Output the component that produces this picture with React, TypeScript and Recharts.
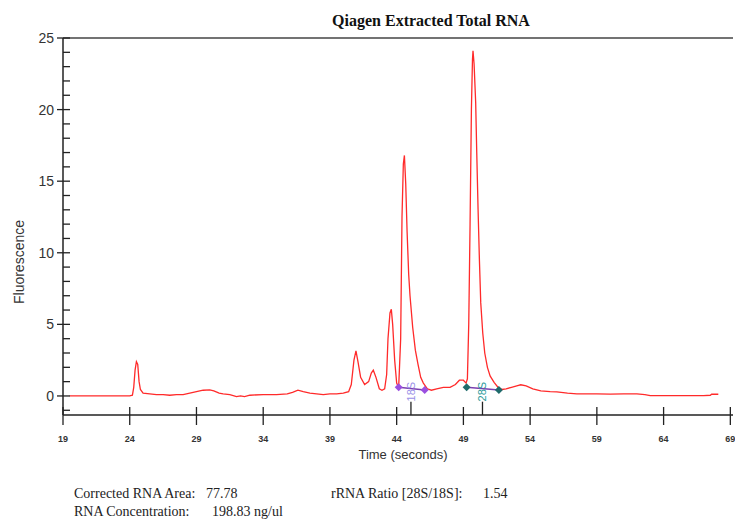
import { LineChart, Line, XAxis, YAxis, ReferenceLine, ReferenceDot } from 'recharts';

// electropherogram trace (time in seconds, fluorescence units)
const TIME = [
  19.5, 20, 22, 24.0, 24.2, 24.3, 24.4, 24.5, 24.6, 24.7, 24.8, 25.0, 25.5, 26.0, 26.5, 27.0, 27.5, 28.0,
  28.5, 29.0, 29.5, 30.0, 30.3, 30.7, 31.0, 31.5, 32.0, 32.3, 32.6, 33.0, 34.0, 35.0, 35.8, 36.2, 36.6,
  37.0, 37.5, 38.0, 38.5, 39.0, 39.5, 40.0, 40.4, 40.6, 40.8, 40.95, 41.1, 41.3, 41.6, 41.9, 42.1, 42.25,
  42.45, 42.7, 42.9, 43.1, 43.25, 43.35, 43.5, 43.6, 43.7, 43.85, 44.0, 44.15, 44.3, 44.4, 44.5, 44.58,
  44.68, 44.78, 44.9, 45.0, 45.2, 45.4, 45.6, 45.8, 46.0, 46.3, 46.6, 47.0, 47.5, 48.0, 48.4, 48.7, 49.0,
  49.2, 49.3, 49.4, 49.5, 49.6, 49.68, 49.72, 49.8, 49.92, 50.0, 50.1, 50.2, 50.3, 50.45, 50.6, 50.8,
  51.0, 51.3, 51.6, 51.9, 52.2, 52.6, 53.0, 53.3, 53.7, 54.2, 54.8, 55.5, 56.0, 56.8, 57.5, 58.0, 59.0,
  60.0, 61.0, 62.0, 62.6, 63.0, 64.0, 65.0, 66.0, 67.0, 67.5, 67.6, 68.1,
];
const FLUOR = [
  0.0, 0.0, 0.0, 0.0, 0.05, 0.6, 1.8, 2.4, 2.2, 1.0, 0.45, 0.2, 0.15, 0.1, 0.1, 0.05, 0.1, 0.1,
  0.2, 0.3, 0.4, 0.42, 0.35, 0.2, 0.15, 0.1, -0.05, 0.0, -0.05, 0.05, 0.1, 0.1, 0.15, 0.25, 0.4,
  0.3, 0.2, 0.15, 0.1, 0.15, 0.15, 0.2, 0.3, 0.8, 2.5, 3.15, 2.4, 1.3, 0.8, 1.0, 1.6, 1.8,
  1.3, 0.5, 0.4, 0.5, 1.5, 4.0, 5.8, 6.05, 5.0, 2.5, 0.9, 0.6, 4.0, 12.5, 16.2, 16.8,
  14.8, 11.5, 8.5, 7.0, 4.8, 3.2, 2.2, 1.3, 0.9, 0.5, 0.4, 0.5, 0.6, 0.6, 0.8, 1.1, 1.1,
  0.9, 1.2, 5.0, 12, 20, 23.5, 24.1, 23.2, 20.5, 17, 13, 9.5, 6.5, 4.4, 3.0, 2.0,
  1.4, 0.95, 0.6, 0.45, 0.5, 0.6, 0.7, 0.78, 0.7, 0.5, 0.35, 0.3, 0.28, 0.2, 0.15, 0.15, 0.14,
  0.13, 0.14, 0.14, 0.1, 0.03, 0.02, 0.03, 0.02, 0.03, 0.05, 0.12, 0.12,
];

// peak integration markers
const PEAK_NAMES = ['18S', '28S'];
const PEAK_START = [44.15, 49.24];
const PEAK_END = [46.1, 51.66];
const PEAK_START_Y = [0.6, 0.6];
const PEAK_END_Y = [0.42, 0.42];
const PEAK_APEX_TICK = [45.07, 50.43];
const PEAK_DOT_COLORS = ['#9b4fe0', '#1e6b6b'];
const PEAK_TEXT_COLORS = ['#9a90e8', '#2a9a9a'];

const X_TICKS = [19, 24, 29, 34, 39, 44, 49, 54, 59, 64, 69];
const Y_TICKS = [-1, 0, 1, 2, 3, 4, 5, 6, 7, 8, 9, 10, 11, 12, 13, 14, 15, 16, 17, 18, 19, 20, 21, 22, 23, 24, 25];
const Y_MIN = -1.33;

const trace = TIME.map((t, i) => ({ t, v: FLUOR[i] }));

const Diamond = (color: string) => (props: any) => {
  const { cx, cy } = props;
  if (cx == null || cy == null) return null;
  return <path d={`M${cx},${cy - 4}L${cx + 4},${cy}L${cx},${cy + 4}L${cx - 4},${cy}Z`} fill={color} />;
};

const YTick = (props: any) => {
  const { x, y, payload } = props;
  const major = payload.value % 5 === 0;
  return (
    <g>
      <line x1={major ? x - 6 : x} x2={x + 7} y1={y} y2={y} stroke="#222" strokeWidth={1.3} />
      {major && (
        <text x={x - 9} y={y + 5} textAnchor="end" fontSize={14} fill="#333" fontFamily="Liberation Sans, Arial, sans-serif">
          {payload.value}
        </text>
      )}
    </g>
  );
};

const XTick = (props: any) => {
  const { x, y, payload } = props;
  return (
    <g>
      <line x1={x} x2={x} y1={y - 8} y2={y + 10} stroke="#222" strokeWidth={1.3} />
      <text x={x} y={y + 27} textAnchor="middle" fontSize={9} fontWeight="bold" fill="#333" fontFamily="Liberation Sans, Arial, sans-serif">
        {payload.value}
      </text>
    </g>
  );
};

const PeakLabel = (name: string, color: string) => (props: any) => {
  const { cx, cy } = props;
  return (
    <text
      x={cx}
      y={cy}
      transform={`rotate(-90 ${cx} ${cy})`}
      textAnchor="middle"
      dominantBaseline="central"
      fontSize={11}
      fill={color}
      fontFamily="Liberation Sans, Arial, sans-serif"
    >
      {name}
    </text>
  );
};

export default function App() {
  return (
    <div style={{ position: 'absolute', left: 0, top: 0, width: 735, height: 522, background: '#fff' }}>
      <div
        style={{
          position: 'absolute', left: 0, width: 862, top: 12, textAlign: 'center',
          fontFamily: 'Liberation Serif, Times New Roman, serif', fontWeight: 'bold', fontSize: 16, color: '#111',
        }}
      >
        Qiagen Extracted Total RNA
      </div>
      <div
        style={{
          position: 'absolute', left: 11, top: 262, transform: 'translate(-50%, -50%) rotate(-90deg)',
          transformOrigin: 'center', fontFamily: 'Liberation Sans, Arial, sans-serif', fontSize: 14, color: '#333',
          whiteSpace: 'nowrap', marginLeft: 8,
        }}
      >
        Fluorescence
      </div>
      <div
        style={{
          position: 'absolute', left: 0, width: 806, top: 447, textAlign: 'center',
          fontFamily: 'Liberation Sans, Arial, sans-serif', fontSize: 13, color: '#333',
        }}
      >
        Time (seconds)
      </div>
      <div style={{ position: 'absolute', left: 74, top: 485, fontFamily: 'Liberation Serif, Times New Roman, serif', fontSize: 14, color: '#222', lineHeight: '18px' }}>
        <div><span style={{ display: 'inline-block', width: 132 }}>Corrected RNA Area:</span>77.78</div>
        <div><span style={{ display: 'inline-block', width: 138 }}>RNA Concentration:</span>198.83 ng/ul</div>
      </div>
      <div style={{ position: 'absolute', left: 331, top: 485, fontFamily: 'Liberation Serif, Times New Roman, serif', fontSize: 14, color: '#222', lineHeight: '18px' }}>
        <span style={{ display: 'inline-block', width: 152 }}>rRNA Ratio [28S/18S]:</span>1.54
      </div>
      <LineChart width={735} height={522} margin={{ top: 38, right: 2, bottom: 0, left: 0 }} style={{ position: 'absolute', left: 0, top: 0 }}>
        <XAxis
          type="number"
          dataKey="t"
          domain={[19, 69.2]}
          ticks={X_TICKS}
          height={107}
          tickSize={0}
          tickMargin={0}
          tickLine={false}
          tick={<XTick />}
          interval={0}
          axisLine={{ stroke: '#222', strokeWidth: 1.5 }}
          allowDataOverflow
        />
        <YAxis
          type="number"
          dataKey="v"
          domain={[Y_MIN, 25]}
          ticks={Y_TICKS}
          width={63}
          tickSize={0}
          tickMargin={0}
          tickLine={false}
          tick={<YTick />}
          interval={0}
          axisLine={{ stroke: '#222', strokeWidth: 1.5 }}
          allowDataOverflow
        />
        <ReferenceLine y={25} stroke="#444" strokeWidth={1.5} />
        <Line data={trace} dataKey="v" type="linear" stroke="#ff2a2a" strokeWidth={1.3} dot={false} isAnimationActive={false} />
        {PEAK_NAMES.map((name, i) => (
          <Line
            key={name}
            data={[
              { t: PEAK_START[i], v: PEAK_START_Y[i] },
              { t: PEAK_END[i], v: PEAK_END_Y[i] },
            ]}
            dataKey="v"
            type="linear"
            stroke="#7b3fb0"
            strokeWidth={1.5}
            dot={Diamond(PEAK_DOT_COLORS[i])}
            isAnimationActive={false}
          />
        ))}
        {PEAK_NAMES.map((name, i) => (
          <ReferenceLine
            key={`tick-${name}`}
            segment={[{ x: PEAK_APEX_TICK[i], y: Y_MIN }, { x: PEAK_APEX_TICK[i], y: -0.4 }]}
            stroke="#222"
            strokeWidth={1.3}
          />
        ))}
        {PEAK_NAMES.map((name, i) => (
          <ReferenceDot key={`lbl-${name}`} x={PEAK_APEX_TICK[i]} y={0.3} shape={PeakLabel(name, PEAK_TEXT_COLORS[i])} />
        ))}
      </LineChart>
    </div>
  );
}
